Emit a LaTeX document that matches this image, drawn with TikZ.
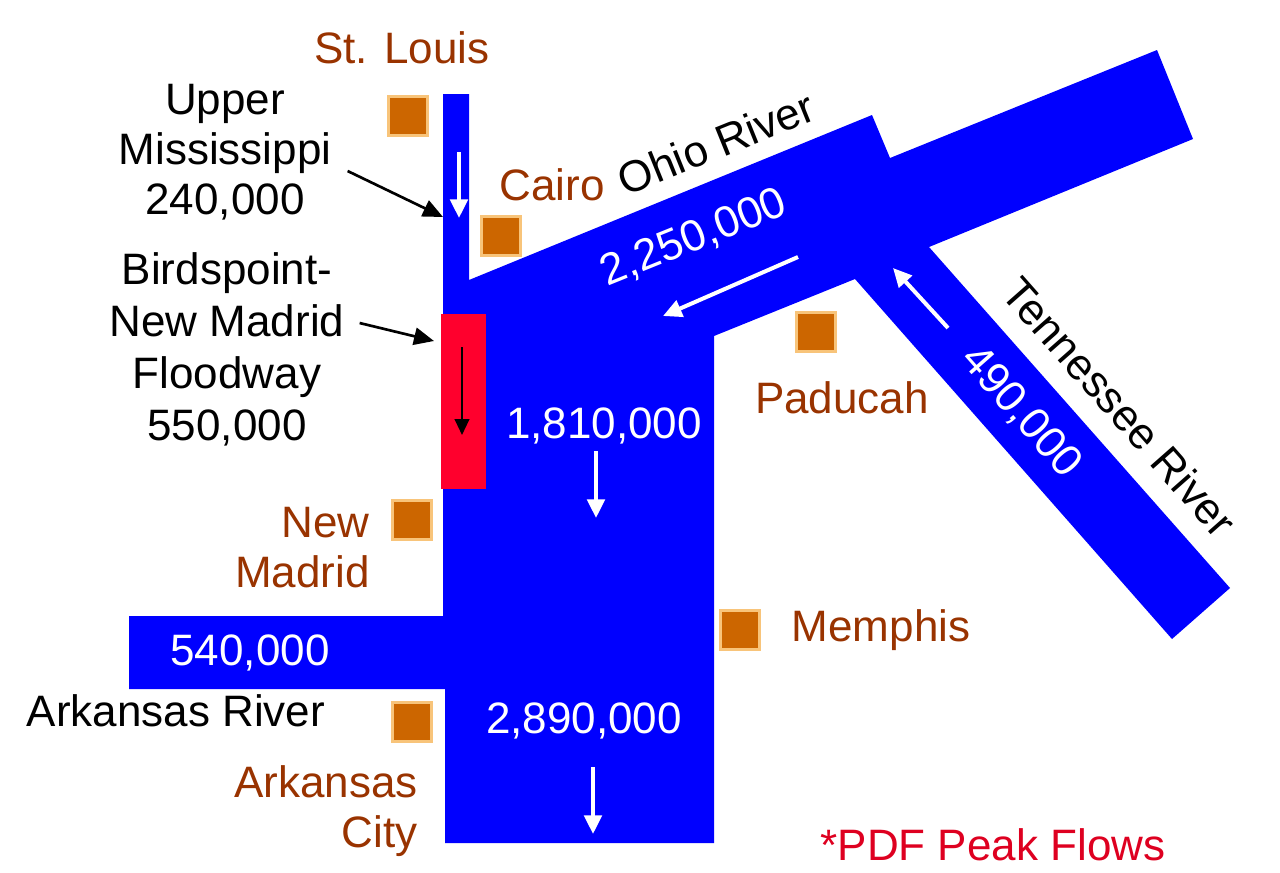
\documentclass[tikz,border=0pt]{standalone}
\usepackage{fontspec}
\setmainfont{Liberation Sans}
\usetikzlibrary{arrows.meta,positioning}

\definecolor{riverblue}{RGB}{0,0,255}
\definecolor{floodred}{RGB}{255,0,45}
\definecolor{townfill}{RGB}{204,102,0}
\definecolor{townedge}{RGB}{248,196,122}
\definecolor{townbrown}{RGB}{153,51,0}
\definecolor{notered}{RGB}{222,0,32}

\tikzset{
  river/.style={fill=riverblue},
  town/.style={rectangle, fill=townfill, draw=townedge, line width=2.25pt, minimum size=29pt, inner sep=0pt},
  lbl/.style={font=\fontsize{33}{37.5}\selectfont, inner sep=0pt},
  city/.style={lbl, text=townbrown},
  flow/.style={lbl, text=white},
  flowarrow/.style={draw=white, line width=3pt, -{Triangle[length=14pt,width=13pt]}},
  pointer/.style={draw=black, line width=2pt, -{Triangle[length=15pt,width=13pt]}}
}

\begin{document}
\begin{tikzpicture}[x=0.75pt, y=-0.75pt]
\useasboundingbox (0,0) rectangle (1280,872);

% rivers
\fill[river] (443,94) -- (469,94) -- (469,280) -- (872,115) -- (890,158) -- (1157,50) -- (1193,139)
  -- (929,247) -- (1230,588) -- (1172,639) -- (855,279) -- (714,336) -- (714,843) -- (445,843)
  -- (445,689) -- (129,689) -- (129,616) -- (443,616) -- cycle;

% floodway
\fill[floodred] (441,314) rectangle (486,489);

% towns
\node[town] (stlouis) at (408,116) {};
\node[town] (cairo) at (501,236) {};
\node[town] (paducah) at (816,332) {};
\node[town] (newmadrid) at (412,520) {};
\node[town] (memphis) at (740,630) {};
\node[town] (arkcity) at (412,722) {};

% town names
\node[city, anchor=base] (stlouislbl) at (402,63) {St. Louis};
\node[city, anchor=base] (cairolbl) at (552,200) {Cairo};
\node[city, anchor=base] (paducahlbl) at (842,413) {Paducah};
\node[city, right=23pt of memphis] (memphislbl) {Memphis};
\node[city, align=right, anchor=east] (newmadridlbl) at (370,548) {New\\Madrid};
\node[city, align=right, anchor=east] (arkcitylbl) at (418,811) {Arkansas\\City};

% river names
\node[lbl, rotate=22] (ohiolbl) at (716,143) {Ohio River};
\node[lbl, rotate=-48.6] (tennlbl) at (1120,407) {Tennessee River};
\node[lbl, anchor=base] (arklbl) at (176,726) {Arkansas River};
\node[lbl, align=center] (upperlbl) at (225,152) {Upper\\Mississippi\\240,000};
\node[lbl, align=center, font=\fontsize{33}{39}\selectfont] (floodlbl) at (227,349) {Birdspoint-\\New Madrid\\Floodway\\550,000};

% peak flows
\node[flow, rotate=22] (ohioflow) at (694,238) {2,250,000};
\node[flow, rotate=-48.6] (tennflow) at (1021,412) {490,000};
\node[flow, anchor=base] (midflow) at (604,438) {1,810,000};
\node[flow, anchor=base] (arkflow) at (250,665) {540,000};
\node[flow, anchor=base] (lowflow) at (584,733) {2,890,000};
\node[lbl, text=notered, anchor=base] (pdfnote) at (993,860) {*PDF Peak Flows};

% flow directions
\draw[flowarrow] (459,152) -- (459,218);
\draw[flowarrow] (798,257) -- (663,316);
\draw[flowarrow] (948,328) -- (893,268);
\draw[flowarrow] (596,451) -- (596,518);
\draw[flowarrow] (593,767) -- (593,834);
\draw[black, line width=1.6pt, -{Triangle[length=12pt,width=11pt]}] (462,347) -- (462,435);

% pointers
\coordinate (umissin) at (443,217);
\coordinate (floodin) at (434,341);
\draw[pointer] ([shift={(16,19)}]upperlbl.east) -- (umissin);
\draw[pointer] ([shift={(15,-26)}]floodlbl.east) -- (floodin);
\end{tikzpicture}
\end{document}
